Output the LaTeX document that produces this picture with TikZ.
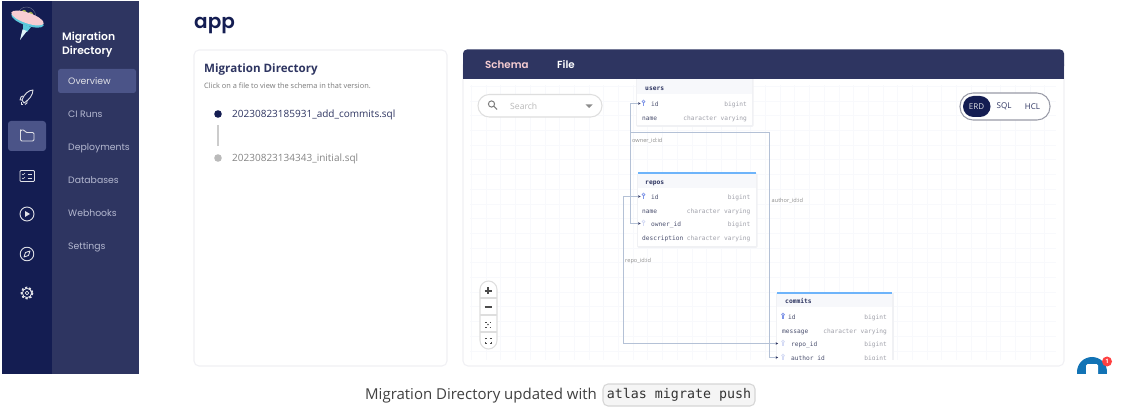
\documentclass[tikz,border=0pt]{standalone}
\usepackage{fontspec}
\setmainfont{Open Sans}
\newfontfamily\pop{Poppins}
\newfontfamily\popsb{Poppins}[UprightFont=* SemiBold]
\newfontfamily\monof{DejaVu Sans Mono}
\usetikzlibrary{arrows.meta,calc}
\definecolor{navy}{HTML}{141D52}
\definecolor{slate}{HTML}{2E3561}
\definecolor{hilite}{HTML}{4B5488}
\definecolor{sidetxt}{HTML}{B4B8D0}
\definecolor{cardline}{HTML}{F0F0F4}
\definecolor{gridc}{HTML}{F8F9FC}
\definecolor{wire}{HTML}{B4C1D6}
\definecolor{tblhead}{HTML}{F7F8FB}
\definecolor{topbar}{RGB}{110,180,250}
\definecolor{rowname}{HTML}{4A4F6E}
\definecolor{rowtype}{HTML}{A0A1AA}
\definecolor{keyc}{HTML}{7F95E8}
\definecolor{fkc}{HTML}{D5DBF5}
\definecolor{chat}{HTML}{1273B5}
\definecolor{ufopink}{HTML}{F7CDD2}
\definecolor{ufoteal}{HTML}{5CC9DC}
\definecolor{ufogreen}{HTML}{9CB24A}
\definecolor{softshadow}{HTML}{F0F1F4}
\newcommand{\fs}[1]{\fontsize{#1}{#1}\selectfont}
\tikzset{
  x=1pt,y=-1pt,
  txt/.style={inner sep=0pt,anchor=mid west},
  sidelab/.style={txt,font=\pop\fs{9.3},text=sidetxt},
  sidehead/.style={txt,font=\popsb\fs{10.8},text=white},
  sideicon/.style={draw=white!85!slate,line width=.9pt,fill=none,line join=round},
  tblbox/.style={fill=white,inner sep=0pt},
  tblhd/.style={txt,font=\monof\bfseries\fs{6.3},text=slate},
  rname/.style={txt,font=\monof\fs{6.2},text=rowname},
  rtype/.style={inner sep=0pt,anchor=mid east,font=\monof\fs{6.2},text=rowtype},
  wlabel/.style={txt,font=\fs{5.6},text=black!45},
  conn/.style={draw=wire,line width=1.05pt,-{Stealth[length=2.4pt,width=2.4pt,color=slate]}},
  wireline/.style={draw=wire,line width=1.05pt},
  ctrl/.style={draw=black!70,line width=.7pt},
  toggle/.style={inner sep=0pt,font=\fs{8}},
}
\newcommand{\keyicon}[3]{% x y colour
  \fill[#3] (#1,#2-1.4) circle (1.9);
  \fill[white] (#1,#2-1.8) circle (.6);
  \fill[#3] (#1-.7,#2) rectangle (#1+.7,#2+3.2);
}
\begin{document}
\begin{tikzpicture}
\useasboundingbox (0,0) rectangle (1148,419);
\fill[white] (0,0) rectangle (1148,419);
% ---- sidebar
\fill[navy] (2,1) rectangle (52,374);
\fill[slate] (52,1) rectangle (139,374);
\fill[hilite,rounded corners=2.5] (58,69) rectangle (136,93);
\fill[hilite,rounded corners=3] (8,121) rectangle (46,151);
% logo
\draw[slate!70!white,line width=.4pt] (18,15) .. controls (19,4) and (35,4) .. (36,17);
\fill[ufogreen] (24,12.5) circle (2.6);
\fill[ufogreen] (30.5,14.5) circle (2.6);
\fill[ufoteal] (23,24) -- (31,27) -- (27,32) -- (23,30) -- cycle;
\fill[white!80!ufoteal] (22.5,29.5) -- (27,31) -- (20,40) -- cycle;
\fill[ufoteal,rotate around={-19:(27.5,20)}] (27.5,20) ellipse (17 and 5.6);
\fill[ufopink,rotate around={-19:(27.5,18)}] (27.5,18) ellipse (17 and 5.3);
% sidebar icons
\begin{scope}[sideicon]
  \draw (22,100) .. controls (24,94) and (29,90) .. (33,90) .. controls (33,95) and (29,100) .. (24,103) -- cycle;
  \draw (23,96) -- (21,97) -- (20,100) -- (22.5,100);
  \draw (27,100) -- (27,103) -- (25,104.5);
  \draw (21,102) -- (21,104.5) -- (23,104.5);
  \draw[rounded corners=1.2] (20.5,131) -- (20.5,141) -- (34,141) -- (34,132.5) -- (25.5,132.5) -- (24.5,130) -- (20.5,130) -- cycle;
  \draw[rounded corners=1] (20,170.5) rectangle (34.5,181.5);
  \draw (27.5,174) -- (32,174) (27.5,178) -- (32,178);
  \draw[line width=.6pt] (22,174) -- (23,175) -- (25,173) (22,178) -- (23,179) -- (25,177);
  \draw (27,214) circle (7);
  \fill[white!85!slate,draw=none] (25,211) -- (30,214) -- (25,217) -- cycle;
  \draw (27,254) circle (6.8);
  \draw[line width=.8pt] (24,257) -- (25.5,252.5) -- (30,251) -- (28.5,255.5) -- cycle;
  \draw[line width=1.7pt,dash pattern=on 2.2pt off 1.75pt] (27,293) circle (5.6);
  \draw[line width=.8pt] (27,293) circle (4.6);
  \draw[line width=.8pt] (27,293) circle (1.9);
\end{scope}
\node[sidehead] (h1) at (62,37.5) {Migration};
\node[sidehead] (h2) at (62,52) {Directory};
\node[sidelab,text=white!85!slate] (s1) at (68,82) {Overview};
\node[sidelab] (s2) at (68,115) {CI Runs};
\node[sidelab] (s3) at (68,148) {Deployments};
\node[sidelab] (s4) at (68,181) {Databases};
\node[sidelab] (s5) at (68,214) {Webhooks};
\node[sidelab] (s6) at (68,247) {Settings};
% ---- title
\node[txt,font=\popsb\fs{20},text=navy] (title) at (194,26) {app};
% ---- migration card
\draw[cardline,rounded corners=5,line width=1.05pt] (194,50) rectangle (447,366);
\node[txt,font=\bfseries\fs{11.6},text=slate] (mdir) at (204,70) {Migration Directory};
\node[txt,font=\fs{7.4},text=black!52] (click) at (204,86) {Click on a file to view the schema in that version.};
\node[circle,fill=navy,minimum size=7.6pt,inner sep=0pt] (d1) at (218,114) {};
\node[circle,fill=black!27,minimum size=7.6pt,inner sep=0pt] (d2) at (218,158) {};
\draw[black!20,line width=1.3pt] (218,125) -- (218,146.5);
\node[txt,font=\fs{10},text=slate] (f1) at (232,115) {20230823185931\_add\_commits.sql};
\node[txt,font=\fs{10},text=black!48] (f2) at (232,158.5) {20230823134343\_initial.sql};
% ---- schema panel
\draw[cardline,rounded corners=5,line width=1.05pt] (463,60) rectangle (1064,366);
\begin{scope}
  \clip (470,85) rectangle (1056,360);
  \foreach \gx in {471,485.7,...,1056} \fill[gridc] (\gx,85) rectangle (\gx+.7,360);
  \foreach \gy in {86,100.7,...,360} \fill[gridc] (470,\gy) rectangle (1056,\gy+.7);
\end{scope}
% search
\draw[black!13,fill=white,line width=1.05pt,rounded corners=11.2] (478,94.5) rectangle (602,117);
\draw[black!50,line width=1.05pt] (491.5,104) circle (3.1) (493.8,106.3) -- (497,109.5);
\node[txt,font=\fs{8.6},text=black!28] (search) at (510,107) {Search};
\fill[black!45] (585.5,104.5) -- (592.5,104.5) -- (589,108) -- cycle;
% zoom controls
\draw[black!13,fill=white,line width=1.05pt,rounded corners=8.5] (480,281) rectangle (497,349);
\draw[black!13,line width=1.05pt] (480,298) -- (497,298) (480,315) -- (497,315) (480,332) -- (497,332);
\draw[ctrl,line width=1.05pt] (484.5,291) -- (491.5,291) (488,287.5) -- (488,294.5);
\draw[ctrl,line width=1.05pt] (484.5,307) -- (491.5,307);
\draw[ctrl,dash pattern=on 1.5pt off 3pt] (485,322) -- (491,322) (485,327) -- (491,327);
\fill[black!65] (488,324.5) circle (.9);
\draw[ctrl,line width=.6pt] (485,339.5) -- (485,338) -- (486.5,338) (489.5,338) -- (491,338) -- (491,339.5) (491,342) -- (491,343.5) -- (489.5,343.5) (486.5,343.5) -- (485,343.5) -- (485,342);
% toggle
\draw[black!38!slate!45,fill=white,line width=1.05pt,rounded corners=13] (960,93) rectangle (1050,120);
\fill[navy,rounded corners=10.5] (963,96) rectangle (990.5,117);
\node[toggle,text=white!85!slate] (erd) at (976.5,106.5) {ERD};
\node[toggle,text=slate] (sql) at (1004,106.5) {SQL};
\node[toggle,text=slate] (hcl) at (1032.5,106.5) {HCL};
% ---- tables
\fill[softshadow,rounded corners=1.5] (636,76) rectangle (753.5,127);
\node[tblbox,minimum width=115pt,minimum height=50pt] (users) at (694.5,100.5) {};
\fill[tblhead] (637,76) rectangle (752,94);
\node[tblhd] (usersh) at (645,88) {users};
\keyicon{643.5}{103}{keyc}
\node[rname] (uid) at (651,103.5) {id};
\node[rtype] (uidt) at (747,103.5) {bigint};
\node[rname] (uname) at (642,117.5) {name};
\node[rtype] (unamet) at (747,117.5) {character varying};
%
\fill[softshadow,rounded corners=1.5] (637,173) rectangle (757.5,248);
\node[tblbox,minimum width=118pt,minimum height=73pt] (repos) at (697,209.5) {};
\fill[tblhead] (638,174) rectangle (756,188);
\fill[topbar] (638,172) rectangle (756,174.4);
\node[tblhd] (reposh) at (645,181.5) {repos};
\keyicon{643.5}{196}{keyc}
\node[rname] (rid) at (651,196.5) {id};
\node[rtype] (ridt) at (750.5,196.5) {bigint};
\node[rname] (rname) at (642,210.5) {name};
\node[rtype] (rnamet) at (750.5,210.5) {character varying};
\keyicon{643.5}{223}{fkc}
\node[rname] (rowner) at (651,223.5) {owner\_id};
\node[rtype] (rownert) at (750.5,223.5) {bigint};
\node[rname] (rdesc) at (642,237.5) {description};
\node[rtype] (rdesct) at (750.5,237.5) {character varying};
%
\begin{scope}
  \clip (770,290) rectangle (900,359.5);
  \fill[softshadow] (776,293) rectangle (893.5,360);
  \node[tblbox,minimum width=115pt,minimum height=80pt] (commits) at (834.5,333) {};
  \fill[tblhead] (777,294) rectangle (892,307);
  \fill[topbar] (777,292) rectangle (892,294.4);
  \node[tblhd] (commitsh) at (785,301) {commits};
  \keyicon{783}{316}{keyc}
  \node[rname] (cid) at (788,316.5) {id};
  \node[rtype] (cidt) at (887,316.5) {bigint};
  \node[rname] (cmsg) at (782,330.5) {message};
  \node[rtype] (cmsgt) at (887,330.5) {character varying};
  \keyicon{783}{343}{fkc}
  \node[rname] (crepo) at (791,343.5) {repo\_id};
  \node[rtype] (crepot) at (887,343.5) {bigint};
  \keyicon{783}{357}{fkc}
  \node[rname] (cauth) at (791,357.5) {author\_id};
  \node[rtype] (cautht) at (887,357.5) {bigint};
\end{scope}
% ---- connectors
\coordinate (busO) at (630.5,0);
\coordinate (busR) at (623.5,0);
\coordinate (busA) at (769.5,0);
\coordinate (topA) at (0,132.5);
\coordinate (uin) at (640.5,103.5);
\coordinate (rin) at (640.5,196.5);
\coordinate (oin) at (640.5,223.5);
\coordinate (cin1) at (778,343.5);
\coordinate (cin2) at (778,357.5);
\draw[conn] (busO |- topA) -- (busO |- uin) -- (uin);
\draw[conn] (busO |- topA) -- (busO |- oin) -- (oin);
\draw[wireline] (busO |- topA) -- (busA |- topA);
\draw[conn] (busA |- topA) -- (busA |- cin2) -- (cin2);
\draw[conn] (busR |- cin1) -- (busR |- rin) -- (rin);
\draw[conn] (busR |- rin) -- (busR |- cin1) -- (cin1);
\node[wlabel] (lo) at (632,139.5) {owner\_id:id};
\node[wlabel] (la) at (771.5,199.5) {author\_id:id};
\node[wlabel] (lr) at (625,259.5) {repo\_id:id};
% ---- schema header (over the users table)
\fill[slate,rounded corners=4] (463,49.5) rectangle (1064,70);
\fill[slate] (463,60) rectangle (1064,79);
\node[txt,font=\popsb\fs{10.3},text=ufopink] (tab1) at (485,65.5) {Schema};
\node[txt,font=\popsb\fs{10.3},text=white] (tab2) at (557,65.5) {File};
% ---- chat bubble
\begin{scope}
  \clip (1070,340) rectangle (1125,373.5);
  \fill[chat] (1092,372) circle (15);
  \fill[white,rounded corners=1.5] (1086,364) rectangle (1098,380);
\end{scope}
\node[circle,fill=red!75!white,minimum size=10pt,inner sep=0pt,font=\bfseries\fs{6},text=white] (badge) at (1107,361.5) {1};
% ---- caption
\node[txt,font=\fs{15},text=black!75] (cap) at (365,396.5) {Migration Directory updated with};
\node[draw=black!16,fill=black!4,rounded corners=5,line width=1.05pt,minimum width=152pt,minimum height=22pt,inner sep=0pt,font=\monof\fs{13.3},text=black!80] (code) at (679,395) {atlas migrate push};
\end{tikzpicture}
\end{document}
